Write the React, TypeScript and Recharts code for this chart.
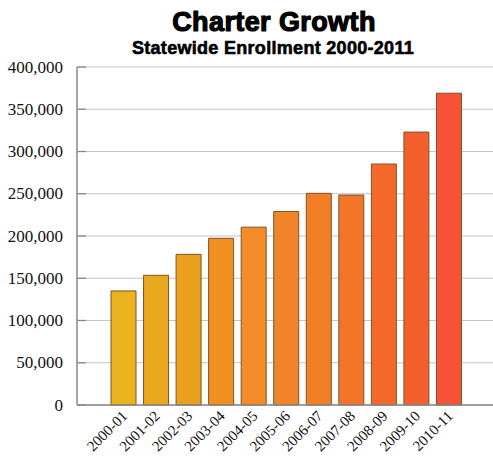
import { BarChart, Bar, XAxis, YAxis, CartesianGrid, Cell } from 'recharts';

const years = [
  '2000-01', '2001-02', '2002-03', '2003-04', '2004-05', '2005-06',
  '2006-07', '2007-08', '2008-09', '2009-10', '2010-11',
];
const enrollment = [
  135000, 153500, 178300, 197300, 210500, 229000,
  250500, 248500, 285200, 323000, 369000,
];
const yTicks = [0, 50000, 100000, 150000, 200000, 250000, 300000, 350000, 400000];

const barColors = [
  '#EAB21C', '#EAA81E', '#EA9F1F', '#F09021', '#F28B28', '#F28529',
  '#F27E26', '#F37628', '#F4692A', '#F45F2E', '#F55236',
];

const data = years.map((year, i) => ({ year, value: enrollment[i] }));

const serif = '"Liberation Serif", "Times New Roman", serif';

function YTick(props: any) {
  const { x, y, payload } = props;
  return (
    <g>
      <line x1={x} y1={y} x2={x + 9} y2={y} stroke="#888" strokeWidth={1.3} />
      <text x={x - 14} y={y} dy={5.5} textAnchor="end" fontFamily={serif} fontSize={17} fill="#111">
        {payload.value.toLocaleString('en-US')}
      </text>
    </g>
  );
}

function XTick(props: any) {
  const { x, y, payload } = props;
  return (
    <text
      x={x + 5}
      y={y + 12}
      textAnchor="end"
      fontFamily={serif}
      fontSize={15}
      fill="#111"
      transform={`rotate(-45 ${x + 5} ${y + 12})`}
    >
      {payload.value}
    </text>
  );
}

export default function App() {
  return (
    <div style={{ position: 'absolute', left: 0, top: 0, width: 493, height: 462, background: '#fff' }}>
      <div
        style={{
          position: 'absolute', left: 0, width: 548, top: 7, textAlign: 'center',
          fontFamily: '"Liberation Sans", Arial, sans-serif', fontWeight: 900, fontSize: 27,
          letterSpacing: 0.4, WebkitTextStroke: '1.2px #000', color: '#000', lineHeight: '30px',
        }}
      >
        Charter Growth
      </div>
      <div
        style={{
          position: 'absolute', left: 0, width: 546, top: 37, textAlign: 'center',
          fontFamily: '"Liberation Sans", Arial, sans-serif', fontWeight: 700, fontSize: 18,
          letterSpacing: 0.3, WebkitTextStroke: '0.6px #000', color: '#000', lineHeight: '22px',
        }}
      >
        Statewide Enrollment 2000-2011
      </div>
      <BarChart
        width={493}
        height={462}
        data={data}
        margin={{ top: 67, right: 0, left: 0, bottom: 0 }}
        barCategoryGap={0}
      >
        <CartesianGrid vertical={false} stroke="#c4c4c4" strokeWidth={1.2} />
        <XAxis
          dataKey="year"
          height={57}
          interval={0}
          padding={{ left: 30, right: 28 }}
          axisLine={{ stroke: '#888', strokeWidth: 1.5 }}
          tickLine={false}
          tickSize={0}
          tickMargin={0}
          tick={<XTick />}
        />
        <YAxis
          width={77}
          domain={[0, 400000]}
          ticks={yTicks}
          interval={0}
          axisLine={{ stroke: '#888', strokeWidth: 1.5 }}
          tickLine={false}
          tickSize={0}
          tickMargin={0}
          tick={<YTick />}
        />
        <Bar dataKey="value" barSize={25} stroke="#7a5528" strokeWidth={1} isAnimationActive={false}>
          {data.map((entry, i) => (
            <Cell key={entry.year} fill={barColors[i]} />
          ))}
        </Bar>
      </BarChart>
    </div>
  );
}
